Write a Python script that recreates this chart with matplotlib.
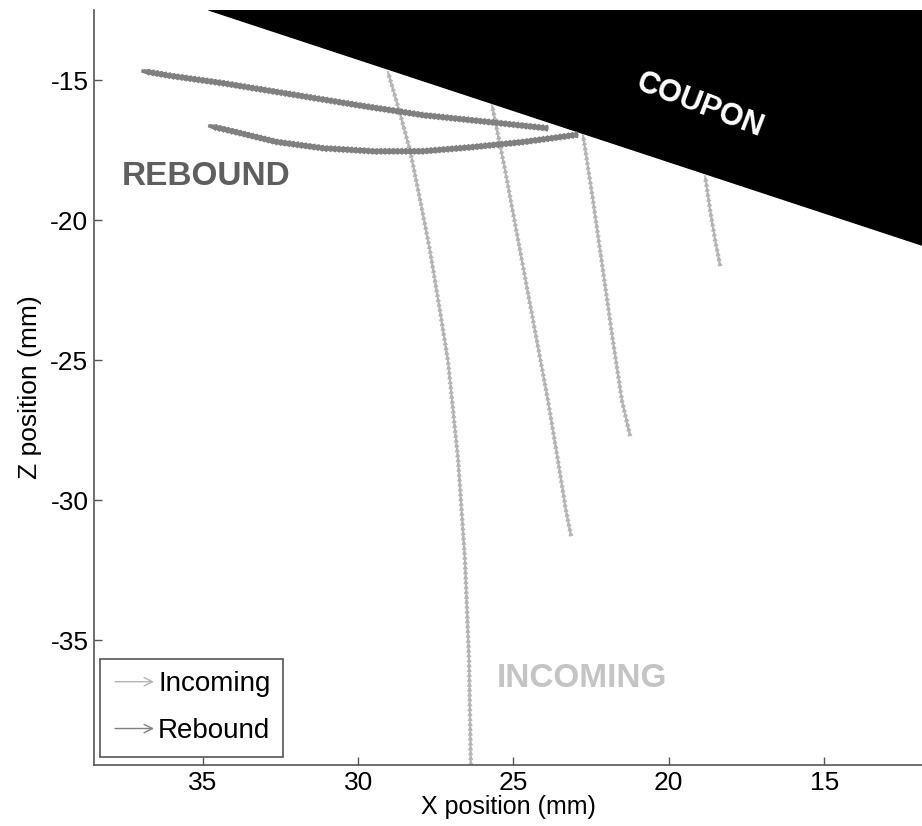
import numpy as np
import matplotlib
matplotlib.use("Agg")
import matplotlib.pyplot as plt
import matplotlib.patheffects as pe
import matplotlib.patches as mpatches
from matplotlib.legend_handler import HandlerPatch

plt.rcParams['font.family'] = ['Liberation Sans', 'DejaVu Sans']
plt.rcParams['axes.unicode_minus'] = False

# incoming trajectories, ordered in direction of travel (up towards the coupon)
in1_x = [26.37, 26.43, 26.56, 26.78, 27.11, 27.40, 27.69, 28.00, 28.33, 28.70, 29.04]
in1_z = [-39.6, -35.71, -32.14, -28.57, -25.0, -23.0, -21.07, -19.3, -17.5, -16.0, -14.71]
in2_x = [23.15, 23.31, 23.57, 23.89, 24.31, 24.79, 25.27, 25.69]
in2_z = [-31.25, -30.36, -28.57, -26.43, -23.93, -21.07, -18.21, -15.89]
in3_x = [21.25, 21.51, 21.80, 22.12, 22.44, 22.76]
in3_z = [-27.68, -26.43, -24.29, -21.79, -19.29, -16.96]
in4_x = [18.35, 18.51, 18.67, 18.83]
in4_z = [-21.61, -20.71, -19.64, -18.43]

# rebound trajectories, ordered away from the coupon
rb1_x = [23.98, 25.75, 27.91, 30.04, 32.19, 34.35, 35.96, 36.92]
rb1_z = [-16.71, -16.50, -16.25, -15.89, -15.50, -15.11, -14.86, -14.68]
rb2_x = [23.02, 24.69, 26.30, 27.91, 29.52, 31.13, 32.61, 33.80, 34.77]
rb2_z = [-16.96, -17.21, -17.39, -17.54, -17.54, -17.43, -17.21, -16.89, -16.64]

# coupon edge
coupon_x = [34.8, 11.0, 11.0, 34.8]
coupon_z = [-12.5, -21.2, -12.0, -12.0]

INCOMING_COLOR = '#b4b4b4'
REBOUND_COLOR = '#808080'


class HandlerArrow(HandlerPatch):
    def create_artists(self, legend, orig_handle, xdescent, ydescent,
                       width, height, fontsize, trans):
        y = height / 2 - ydescent
        arr = mpatches.FancyArrowPatch((-xdescent, y), (width - xdescent, y),
                                       arrowstyle='->', mutation_scale=15,
                                       color=orig_handle.get_edgecolor(), lw=1.0)
        arr.set_transform(trans)
        return [arr]


fig = plt.figure(figsize=(9.22, 8.26), dpi=100)
ax = fig.add_axes([0.102, 0.0738, 0.898, 0.914])

ax.add_patch(mpatches.Polygon(np.column_stack([coupon_x, coupon_z]), closed=True,
                              facecolor='black', edgecolor='black', zorder=1))

chevrons = [pe.TickedStroke(spacing=3.5, angle=150, length=0.55),
            pe.TickedStroke(spacing=3.5, angle=-150, length=0.55),
            pe.Normal()]
for xs, zs in [(in1_x, in1_z), (in2_x, in2_z), (in3_x, in3_z), (in4_x, in4_z)]:
    ax.plot(xs, zs, color=INCOMING_COLOR, lw=1.3, zorder=2, path_effects=chevrons)

rb_fx = [pe.TickedStroke(spacing=3.0, angle=160, length=0.9),
         pe.TickedStroke(spacing=3.0, angle=-160, length=0.9),
         pe.Normal()]
for xs, zs in [(rb1_x, rb1_z), (rb2_x, rb2_z)]:
    ax.plot(xs, zs, color=REBOUND_COLOR, lw=2.6, zorder=3, path_effects=rb_fx)

ax.text(19.0, -15.9, 'COUPON', color='white', fontsize=22, fontweight='bold',
        rotation=-21, ha='center', va='center', zorder=4)
ax.text(37.6, -18.45, 'REBOUND', color='#5f5f5f', fontsize=24, fontweight='bold',
        ha='left', va='center', zorder=4)
ax.text(22.8, -36.35, 'INCOMING', color='#c4c4c4', fontsize=24, fontweight='bold',
        ha='center', va='center', zorder=4)

ax.set_xlim(38.5, 11.85)
ax.set_ylim(-39.45, -12.5)
ax.set_xticks([35, 30, 25, 20, 15])
ax.set_yticks([-15, -20, -25, -30, -35])
ax.tick_params(direction='in', length=6, width=1, color='#555555',
               labelsize=19, pad=4)
for side in ['top', 'right']:
    ax.spines[side].set_visible(False)
for side in ['left', 'bottom']:
    ax.spines[side].set_color('#555555')
    ax.spines[side].set_linewidth(1.2)

ax.set_xlabel('X position (mm)', fontsize=18, labelpad=0)
ax.set_ylabel('Z position (mm)', fontsize=19, labelpad=6)

handles = [mpatches.Patch(edgecolor=INCOMING_COLOR, facecolor='none', label='Incoming'),
           mpatches.Patch(edgecolor=REBOUND_COLOR, facecolor='none', label='Rebound')]
leg = ax.legend(handles=handles, handler_map={mpatches.Patch: HandlerArrow()},
                loc='lower left', bbox_to_anchor=(0.007, 0.011), borderaxespad=0,
                fontsize=20, handlelength=1.6, handletextpad=0.05,
                fancybox=False, framealpha=1, edgecolor='#555555',
                borderpad=0.45, labelspacing=0.75)
leg.get_frame().set_linewidth(1.2)

fig.savefig('out.png', dpi=100)
